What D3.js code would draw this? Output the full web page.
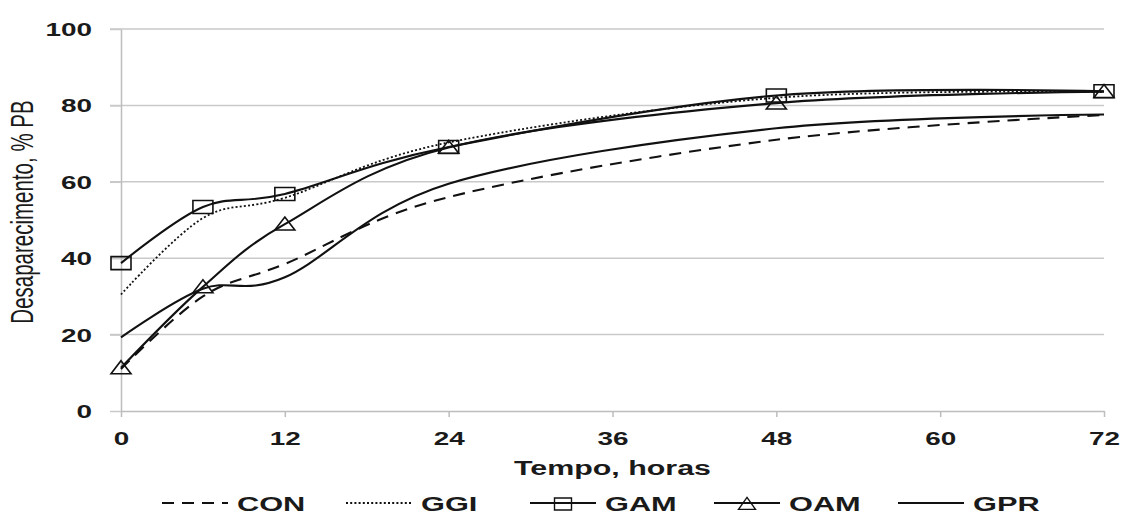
<!DOCTYPE html>
<html>
<head>
<meta charset="utf-8">
<script src="https://cdn.jsdelivr.net/npm/d3@7"></script>
<style>
  body { margin: 0; background: #fff; }
  svg { display: block; font-family: "Liberation Sans", Arial, sans-serif; }
</style>
</head>
<body>
<div id="chart"></div>
<script>
// hours of incubation
const hours = [0, 6, 12, 24, 48, 72];
const xTicks = [0, 12, 24, 36, 48, 60, 72];
const yTicks = [0, 20, 40, 60, 80, 100];

// disappearance of crude protein (% PB) per treatment
const seriesNames = ['CON', 'GGI', 'GAM', 'OAM', 'GPR'];
const con = [11, 30, 38.5, 56, 71, 77.5];
const ggi = [30.5, 50.5, 55.8, 70.3, 82, 83.5];
const gam = [38.7, 53.4, 56.8, 69.1, 82.6, 83.7];
const oam = [11.3, 32.5, 48.9, 69, 80.6, 83.6];
const gpr = [19.3, 32, 35, 59.5, 74, 77.6];
const seriesValues = [con, ggi, gam, oam, gpr];

// line style per series
const styles = {
    CON: { dash: '12,8', marker: null },
    GGI: { dash: '2,2.2', marker: null, width: 1.8 },
    GAM: { dash: null, marker: 'square' },
    OAM: { dash: null, marker: 'triangle' },
    GPR: { dash: null, marker: null }
};

const W = 1123, H = 516;
// the original picture is stretched horizontally, so text gets widened too
const SX = 1.55;

const margin = { top: 29, right: 19, bottom: 105, left: 121 },
    width = W - margin.left - margin.right,
    height = H - margin.top - margin.bottom;

const svg = d3.select('#chart')
    .append('svg')
    .attr('width', W)
    .attr('height', H);

const g = svg.append('g')
    .attr('transform', `translate(${margin.left},${margin.top})`);

const x = d3.scaleLinear().domain([0, 72]).range([0, width]);
const y = d3.scaleLinear().domain([0, 100]).range([height, 0]);

// horizontal grid lines
g.append('g')
    .selectAll('line')
    .data(yTicks.filter(d => d > 0))
    .join('line')
    .attr('x1', -11)
    .attr('x2', width)
    .attr('y1', d => y(d))
    .attr('y2', d => y(d))
    .attr('stroke', '#c9c9c9')
    .attr('stroke-width', 1.5);

// Y axis
const yAxis = g.append('g')
    .call(d3.axisLeft(y).tickValues(yTicks).tickSize(11).tickSizeOuter(0));
yAxis.select('.domain').attr('stroke', '#bdbdbd').attr('stroke-width', 1.5);
yAxis.selectAll('.tick line').attr('stroke', '#c9c9c9').attr('stroke-width', 1.5);
yAxis.selectAll('.tick text')
    .attr('x', -29 / SX)
    .attr('dy', '0.36em')
    .attr('transform', `scale(${SX},1)`)
    .style('font-size', '18px')
    .style('font-weight', 'bold')
    .attr('fill', '#1a1a1a');

// X axis
const xAxis = g.append('g')
    .attr('transform', `translate(0,${height})`)
    .call(d3.axisBottom(x).tickValues(xTicks).tickSize(6).tickSizeOuter(0));
xAxis.select('.domain').attr('stroke', '#bdbdbd').attr('stroke-width', 1.5);
xAxis.selectAll('.tick line').attr('stroke', '#bdbdbd').attr('stroke-width', 1.5);
xAxis.selectAll('.tick text')
    .attr('y', 34)
    .attr('dy', 0)
    .attr('transform', `scale(${SX},1)`)
    .style('font-size', '18px')
    .style('font-weight', 'bold')
    .attr('fill', '#1a1a1a');

// axis titles
svg.append('text')
    .attr('transform', `translate(${margin.left + width / 2},475) scale(1.52,1)`)
    .attr('text-anchor', 'middle')
    .style('font-size', '20px')
    .style('font-weight', 'bold')
    .attr('fill', '#1a1a1a')
    .text('Tempo, horas');

svg.append('text')
    .attr('transform', `translate(33,212) scale(1.5,1) rotate(-90)`)
    .attr('text-anchor', 'middle')
    .style('font-size', '20.5px')
    .attr('fill', '#1a1a1a')
    .text('Desaparecimento, % PB');

// marker shapes (wider than tall, like the source picture)
function markerPath(type, cx, cy, w, h) {
    if (type === 'square')
        return `M${cx - w / 2},${cy - h / 2}h${w}v${h}h${-w}Z`;
    return `M${cx},${cy - h * 0.55}L${cx + w / 2},${cy + h * 0.45}L${cx - w / 2},${cy + h * 0.45}Z`;
}

const line = d3.line()
    .x(d => x(d[0]))
    .y(d => y(d[1]))
    .curve(d3.curveCardinal.tension(0));

seriesNames.forEach((name, i) => {
    const st = styles[name];
    const pts = hours.map((h, j) => [h, seriesValues[i][j]]);
    g.append('path')
        .datum(pts)
        .attr('d', line)
        .attr('fill', 'none')
        .attr('stroke', '#111')
        .attr('stroke-width', st.width || 2.1)
        .attr('stroke-dasharray', st.dash);
    if (st.marker) {
        g.append('g')
            .selectAll('path')
            .data(pts)
            .join('path')
            .attr('d', d => markerPath(st.marker, x(d[0]), y(d[1]), 20, 13))
            .attr('fill', 'none')
            .attr('stroke', '#111')
            .attr('stroke-width', 1.6);
    }
});

// legend
const legendY = 503, legendStart = 162, legendStep = 184, legendLine = 66;
const legend = svg.append('g');
seriesNames.forEach((name, i) => {
    const st = styles[name];
    const x0 = legendStart + i * legendStep;
    legend.append('line')
        .attr('x1', x0)
        .attr('x2', x0 + legendLine)
        .attr('y1', legendY)
        .attr('y2', legendY)
        .attr('stroke', '#111')
        .attr('stroke-width', st.width || 2.1)
        .attr('stroke-dasharray', st.dash);
    if (st.marker) {
        legend.append('path')
            .attr('d', markerPath(st.marker, x0 + legendLine / 2, legendY + 1, 17, 12))
            .attr('fill', 'none')
            .attr('stroke', '#111')
            .attr('stroke-width', 1.4);
    }
    legend.append('text')
        .attr('transform', `translate(${x0 + legendLine + 9},${legendY + 8}) scale(1.5,1)`)
        .style('font-size', '20.5px')
        .style('font-weight', 'bold')
        .attr('fill', '#1a1a1a')
        .text(name);
});
</script>
</body>
</html>
